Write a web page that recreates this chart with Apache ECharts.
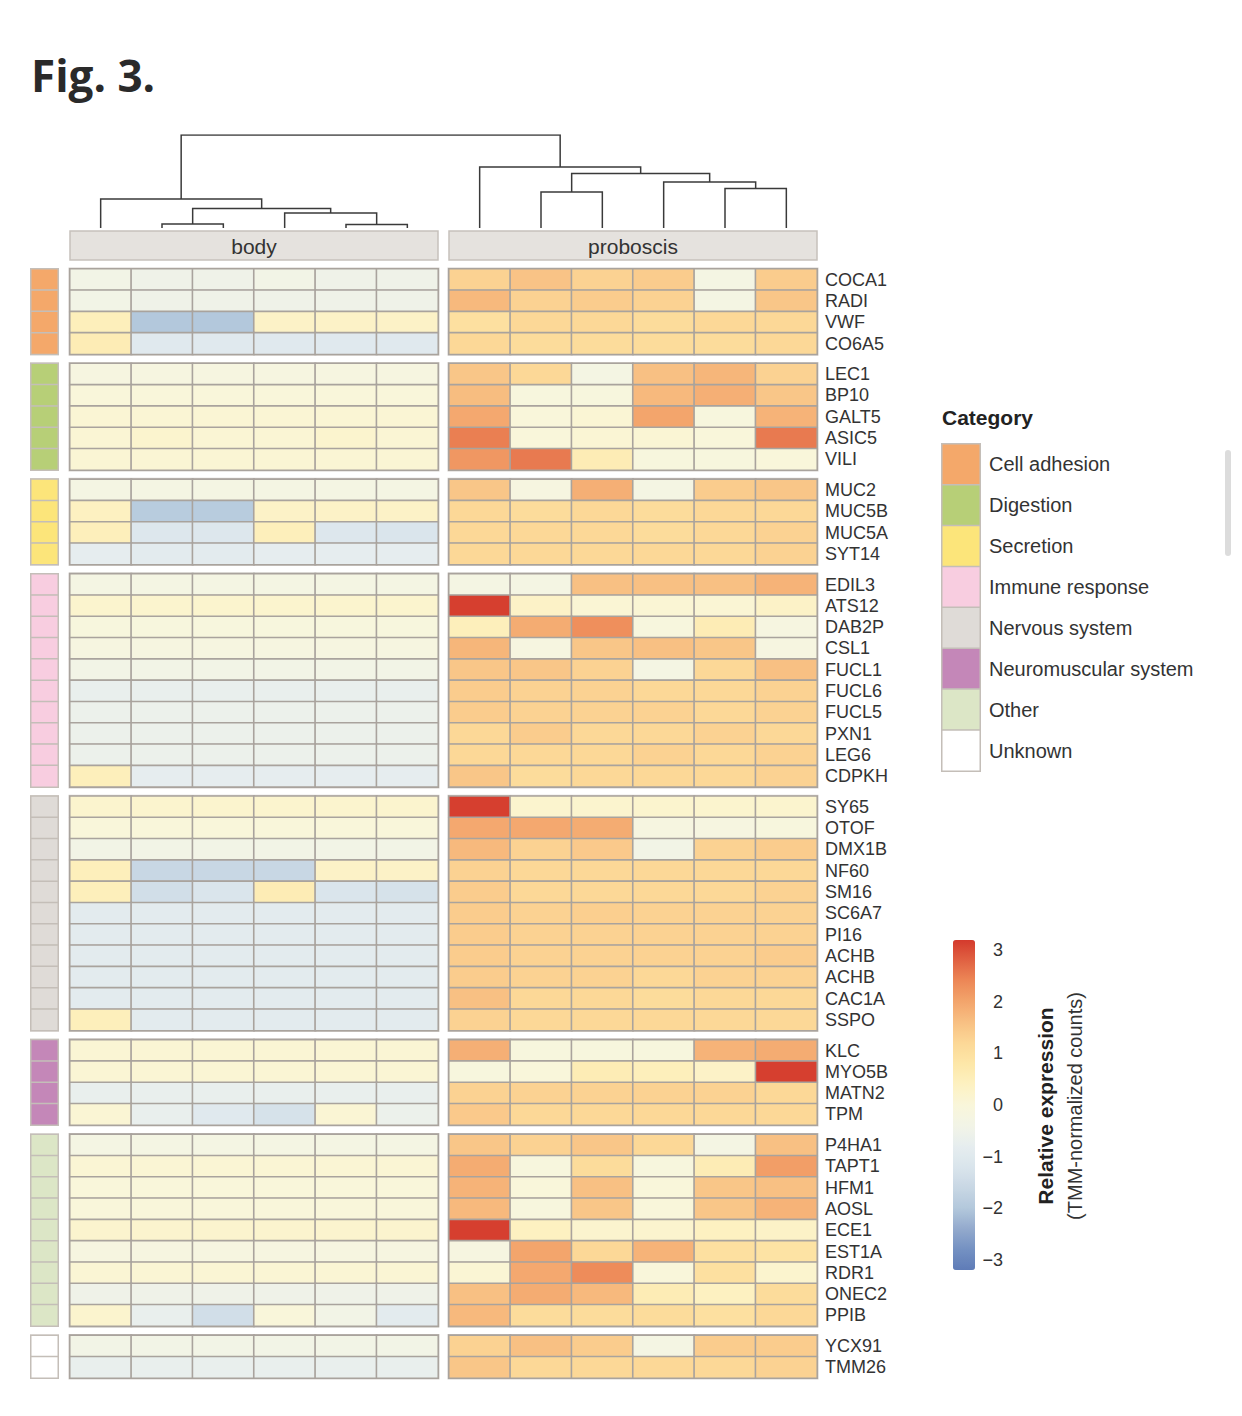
<!DOCTYPE html>
<html><head><meta charset="utf-8">
<script src="https://cdn.jsdelivr.net/npm/echarts@6/dist/echarts.min.js"></script>
<style>html,body{margin:0;padding:0;background:#fff}#chart{width:1242px;height:1416px}</style>
</head><body><div id="chart"></div>
<script>
// ---------------- DATA ----------------
const facets = ['body', 'proboscis'];
const samples = ['1', '2', '3', '4', '5', '6'];
const categories = ['Cell adhesion', 'Digestion', 'Secretion', 'Immune response', 'Nervous system', 'Neuromuscular system', 'Other', 'Unknown'];
const categoryColors = ['#f4a86a', '#b7cf77', '#fce57a', '#f8cde0', '#dfdbd7', '#c487b8', '#dce6c6', '#ffffff'];
const groupSizes = [4, 5, 4, 10, 11, 4, 9, 2];
const genes = [
  'COCA1', 'RADI', 'VWF', 'CO6A5',
  'LEC1', 'BP10', 'GALT5', 'ASIC5', 'VILI',
  'MUC2', 'MUC5B', 'MUC5A', 'SYT14',
  'EDIL3', 'ATS12', 'DAB2P', 'CSL1', 'FUCL1', 'FUCL6', 'FUCL5', 'PXN1', 'LEG6', 'CDPKH',
  'SY65', 'OTOF', 'DMX1B', 'NF60', 'SM16', 'SC6A7', 'PI16', 'ACHB', 'ACHB', 'CAC1A', 'SSPO',
  'KLC', 'MYO5B', 'MATN2', 'TPM',
  'P4HA1', 'TAPT1', 'HFM1', 'AOSL', 'ECE1', 'EST1A', 'RDR1', 'ONEC2', 'PPIB',
  'YCX91', 'TMM26'
];
// relative expression, body samples 1-6
const bodyExpr = [
  [-0.4, -0.5, -0.5, -0.4, -0.5, -0.5], [-0.4, -0.5, -0.5, -0.5, -0.5, -0.5], [0.5, -2.0, -2.0, 0.3, 0.3, 0.3], [0.6, -1.0, -1.0, -1.0, -1.0, -1.0],
  [-0.2, -0.2, -0.2, -0.2, -0.2, -0.2], [0.0, 0.0, 0.0, 0.0, 0.0, 0.0], [0.1, 0.1, 0.1, 0.1, 0.1, 0.1], [0.1, 0.2, 0.1, 0.1, 0.2, 0.1], [0.1, 0.1, 0.1, 0.1, 0.1, 0.1],
  [-0.3, -0.3, -0.3, -0.3, -0.3, -0.3], [0.4, -1.9, -1.9, 0.3, 0.3, 0.3], [0.5, -1.1, -1.1, 0.5, -1.1, -1.2], [-0.8, -0.9, -0.9, -0.8, -0.8, -0.8],
  [-0.3, -0.3, -0.3, -0.3, -0.3, -0.3], [0.2, 0.2, 0.2, 0.2, 0.2, 0.2], [-0.1, -0.1, -0.1, -0.1, -0.1, -0.1], [-0.2, -0.2, -0.2, -0.2, -0.2, -0.2], [-0.4, -0.4, -0.4, -0.4, -0.4, -0.4],
  [-0.7, -0.7, -0.7, -0.7, -0.7, -0.7], [-0.6, -0.6, -0.6, -0.6, -0.6, -0.6], [-0.6, -0.6, -0.6, -0.6, -0.6, -0.6], [-0.6, -0.6, -0.6, -0.6, -0.6, -0.6], [0.5, -0.8, -0.8, -0.8, -0.8, -0.8],
  [0.2, 0.2, 0.2, 0.2, 0.2, 0.2], [0.0, 0.0, 0.0, 0.0, 0.0, 0.0], [-0.4, -0.4, -0.4, -0.4, -0.4, -0.4], [0.5, -1.6, -1.6, -1.6, 0.3, 0.3], [0.5, -1.4, -1.2, 0.6, -1.2, -1.3],
  [-0.9, -0.9, -0.9, -0.9, -0.9, -0.9], [-0.9, -0.9, -0.9, -0.9, -0.9, -0.9], [-0.9, -0.9, -0.9, -0.9, -0.9, -0.9], [-0.9, -0.9, -0.9, -0.9, -0.9, -0.9], [-0.9, -0.9, -0.9, -0.9, -0.9, -0.9], [0.5, -0.9, -0.9, -0.9, -0.9, -0.9],
  [0.1, 0.1, 0.1, 0.1, 0.1, 0.1], [0.1, 0.1, 0.1, 0.1, 0.1, 0.1], [-0.7, -0.7, -0.7, -0.7, -0.7, -0.7], [0.1, -0.7, -1.0, -1.3, 0.1, -0.6],
  [-0.3, -0.3, -0.3, -0.3, -0.3, -0.3], [0.1, 0.1, 0.1, 0.1, 0.1, 0.1], [0.0, 0.0, 0.0, 0.0, 0.0, 0.0], [0.0, 0.0, 0.0, 0.0, 0.0, 0.0], [0.2, 0.2, 0.2, 0.2, 0.2, 0.2], [-0.2, -0.2, -0.2, -0.2, -0.2, -0.2], [0.1, 0.1, 0.1, 0.1, 0.1, 0.1], [-0.5, -0.5, -0.5, -0.5, -0.5, -0.5], [0.2, -0.7, -1.4, 0.0, -0.4, -0.9],
  [-0.4, -0.4, -0.4, -0.4, -0.4, -0.4], [-0.7, -0.7, -0.7, -0.7, -0.7, -0.7]
];
// relative expression, proboscis samples 1-6
const proboscisExpr = [
  [1.3, 1.55, 1.3, 1.4, -0.3, 1.4], [1.7, 1.3, 1.4, 1.3, -0.3, 1.5], [1.0, 1.2, 1.2, 1.1, 1.2, 1.2], [1.2, 1.1, 1.1, 1.1, 1.1, 1.2],
  [1.5, 1.2, -0.3, 1.6, 1.75, 1.3], [1.65, -0.1, -0.1, 1.7, 1.85, 1.5], [1.95, 0.0, 0.1, 2.0, -0.1, 1.8], [2.5, 0.0, 0.1, 0.1, 0.0, 2.55], [2.2, 2.55, 0.6, -0.1, -0.1, 0.0],
  [1.5, -0.2, 1.85, -0.3, 1.4, 1.5], [1.2, 1.1, 1.2, 1.1, 1.2, 1.2], [1.2, 1.2, 1.2, 1.1, 1.2, 1.3], [1.2, 1.2, 1.2, 1.2, 1.2, 1.3],
  [-0.3, -0.3, 1.6, 1.6, 1.6, 1.8], [3.15, 0.3, 0.1, 0.1, 0.1, 0.3], [0.5, 1.9, 2.3, -0.1, 0.6, -0.2], [1.75, -0.2, 1.5, 1.6, 1.5, -0.2], [1.5, 1.5, 1.3, -0.3, 1.2, 1.6],
  [1.4, 1.3, 1.3, 1.2, 1.2, 1.3], [1.4, 1.3, 1.3, 1.3, 1.2, 1.3], [1.2, 1.4, 1.2, 1.2, 1.3, 1.2], [1.2, 1.2, 1.2, 1.3, 1.2, 1.3], [1.5, 1.1, 1.2, 1.2, 1.2, 1.3],
  [3.15, 0.2, 0.2, 0.2, 0.2, 0.2], [1.95, 1.95, 1.9, -0.2, -0.2, -0.1], [1.7, 1.3, 1.45, -0.4, 1.3, 1.4], [1.3, 1.2, 1.2, 1.2, 1.2, 1.2], [1.4, 1.2, 1.2, 1.2, 1.2, 1.3],
  [1.4, 1.3, 1.35, 1.3, 1.3, 1.3], [1.4, 1.3, 1.3, 1.3, 1.3, 1.3], [1.4, 1.3, 1.3, 1.3, 1.3, 1.4], [1.4, 1.3, 1.3, 1.2, 1.3, 1.3], [1.6, 1.2, 1.2, 1.1, 1.2, 1.2], [1.3, 1.2, 1.2, 1.2, 1.2, 1.2],
  [1.85, -0.1, -0.1, -0.1, 1.8, 1.9], [-0.1, 0.0, 0.6, 0.5, 0.3, 3.15], [1.3, 1.3, 1.3, 1.3, 1.3, 1.2], [1.45, 1.2, 1.2, 1.2, 1.2, 1.2],
  [1.5, 1.3, 1.5, 1.2, -0.3, 1.6], [1.9, -0.1, 1.1, -0.1, 0.6, 2.1], [1.8, 0.0, 1.6, 0.0, 1.5, 1.6], [1.7, -0.1, 1.5, 0.0, 1.5, 1.8], [3.15, 0.4, 0.2, 0.2, 0.4, 0.3], [-0.2, 2.0, 1.2, 1.8, 1.0, 0.9], [0.1, 1.95, 2.35, 0.0, 1.0, 0.2], [1.6, 1.9, 1.7, 0.6, 0.4, 1.1], [1.7, 1.1, 1.1, 1.1, 1.0, 1.2],
  [1.3, 1.6, 1.4, -0.3, 1.4, 1.4], [1.5, 1.2, 1.2, 1.2, 1.2, 1.3]
];
const colorTicks = [-3, -2, -1, 0, 1, 2, 3];
// hclust-style merges over 12 samples (leaves -1..-6 body, -7..-12 proboscis): [left, right, height]
const dendroMerges = [
  [-2, -3, 0.43], [-5, -6, 0.37], [-4, 2, 1.61], [1, 3, 2.09], [-1, 4, 3.12],
  [-11, -12, 4.25], [-10, 6, 4.95], [-8, -9, 3.87], [8, 7, 5.86], [-7, 9, 6.56],
  [5, 10, 10]
];

// ---------------- LAYOUT ----------------
const panelLeft = [70, 449], panelWidth = 368;
const top0 = 269, rowH = 21.3, groupGap = 9.33;
const catLeft = 31, catWidth = 27;
const textColor = '#333333';
const sans = '"Liberation Sans", Arial, sans-serif';
const palette = ['#5f7cb7', '#7491c2', '#93aacd', '#b3c8dc', '#c8d7e4', '#dae5ec', '#e6edef', '#f2f4e6',
  '#f9f6da', '#fdf1c1', '#fde7a8', '#fcd897', '#f8c083', '#f3a56c', '#ed8857', '#e06243', '#d43a2c'];

const grid = [], xAxis = [], yAxis = [], series = [];
const exprSeries = [], catSeries = [];
let rowStart = 0;
groupSizes.forEach((size, g) => {
  const top = top0 + rowStart * rowH + g * groupGap;
  const height = size * rowH;
  const geneSlice = genes.slice(rowStart, rowStart + size);
  [bodyExpr, proboscisExpr].forEach((mat, f) => {
    const gi = grid.length;
    grid.push({ left: panelLeft[f], top: top, width: panelWidth, height: height, show: true,
      borderColor: '#d6d2ce', borderWidth: 3, backgroundColor: '#fff' });
    xAxis.push({ gridIndex: gi, type: 'category', data: samples, show: false });
    yAxis.push({ gridIndex: gi, type: 'category', data: geneSlice.map((n, i) => i + ':' + n), inverse: true,
      show: f === 1, position: 'right', axisLine: { show: false }, axisTick: { show: false },
      axisLabel: { interval: 0, hideOverlap: false, fontSize: 18, color: textColor, margin: 8, fontFamily: sans,
        formatter: v => v.split(':')[1] } });
    const data = [];
    for (let r = 0; r < size; r++) for (let c = 0; c < samples.length; c++) data.push([c, r, mat[rowStart + r][c]]);
    exprSeries.push(series.length);
    series.push({ type: 'heatmap', xAxisIndex: gi, yAxisIndex: gi, data: data,
      itemStyle: { borderColor: '#a9a39d', borderWidth: 1.6 }, emphasis: { disabled: true } });
  });
  // category side bar
  const gi = grid.length;
  grid.push({ left: catLeft, top: top, width: catWidth, height: height, show: true, borderColor: '#d6d2ce', borderWidth: 2 });
  xAxis.push({ gridIndex: gi, type: 'category', data: ['category'], show: false });
  yAxis.push({ gridIndex: gi, type: 'category', data: geneSlice.map((n, i) => i + ':' + n), inverse: true, show: false });
  catSeries.push(series.length);
  series.push({ type: 'heatmap', xAxisIndex: gi, yAxisIndex: gi, data: geneSlice.map((n, r) => [0, r, g]),
    itemStyle: { borderColor: '#c4beb8', borderWidth: 1.5 }, emphasis: { disabled: true } });
  rowStart += size;
});

// category legend (as a small heatmap)
{
  const gi = grid.length;
  grid.push({ left: 942, top: 444, width: 38, height: 327 });
  xAxis.push({ gridIndex: gi, type: 'category', data: ['category'], show: false });
  yAxis.push({ gridIndex: gi, type: 'category', data: categories, inverse: true, position: 'right',
    axisLine: { show: false }, axisTick: { show: false },
    axisLabel: { interval: 0, fontSize: 20, color: textColor, margin: 9, fontFamily: sans } });
  catSeries.push(series.length);
  series.push({ type: 'heatmap', xAxisIndex: gi, yAxisIndex: gi, data: categories.map((c, i) => [0, i, i]),
    itemStyle: { borderColor: '#c4beb8', borderWidth: 1.5 }, emphasis: { disabled: true } });
}

// colour bar tick labels
{
  const gi = grid.length;
  grid.push({ left: 1004, top: 950, width: 1, height: 310 });
  xAxis.push({ gridIndex: gi, type: 'value', show: false, min: 0, max: 1 });
  yAxis.push({ gridIndex: gi, type: 'value', min: colorTicks[0], max: colorTicks[colorTicks.length - 1], interval: 1,
    position: 'left', axisLine: { show: false }, axisTick: { show: false }, splitLine: { show: false },
    axisLabel: { fontSize: 18, color: textColor, margin: 1, fontFamily: sans, formatter: v => String(v).replace('-', '\u2212') } });
}

// dendrogram
{
  const colW = panelWidth / samples.length;
  const gapCols = (panelLeft[1] - panelLeft[0] - panelWidth) / colW;
  const leafX = i => (i < 6 ? i + 0.5 : i + 0.5 + gapCols);
  const nodes = [];
  const pos = id => id < 0 ? [leafX(-id - 1), 0] : nodes[id - 1];
  const lines = [];
  dendroMerges.forEach(([a, b, h]) => {
    const pa = pos(a), pb = pos(b);
    lines.push({ coords: [[pa[0], pa[1]], [pa[0], h], [pb[0], h], [pb[0], pb[1]]] });
    nodes.push([(pa[0] + pb[0]) / 2, h]);
  });
  const gi = grid.length;
  grid.push({ left: panelLeft[0], top: 135, width: panelLeft[1] + panelWidth - panelLeft[0], height: 93 });
  xAxis.push({ gridIndex: gi, type: 'value', min: 0, max: 12 + gapCols, show: false });
  yAxis.push({ gridIndex: gi, type: 'value', min: 0, max: 10, show: false });
  series.push({ type: 'lines', coordinateSystem: 'cartesian2d', xAxisIndex: gi, yAxisIndex: gi, polyline: true,
    data: lines, lineStyle: { color: '#3a3a3a', width: 1.5, opacity: 1 }, silent: true });
}

const graphic = [
  { type: 'text', x: 31, y: 75, style: { text: 'Fig. 3.', fontSize: 44, fontWeight: 'bold', fontFamily: '"Open Sans", "Noto Sans", sans-serif', fill: '#2a2a2a', verticalAlign: 'middle' } },
  { type: 'text', x: 942, y: 417, style: { text: 'Category', fontSize: 21, fontWeight: 'bold', fontFamily: sans, fill: '#222', verticalAlign: 'middle' } },
  { type: 'text', x: 1060, y: 1106, rotation: Math.PI / 2,
    style: { text: '{a|Relative expression}\n{b|(TMM-normalized counts)}', align: 'center', verticalAlign: 'middle',
      rich: { a: { fontSize: 21, fontWeight: 'bold', fontFamily: sans, fill: '#222', lineHeight: 30 },
              b: { fontSize: 20, fontFamily: sans, fill: '#333', lineHeight: 30 } } } },
  { type: 'rect', shape: { x: 1225, y: 450, width: 6, height: 106, r: 3 }, style: { fill: '#dcdcdc' } }
];
facets.forEach((name, f) => {
  graphic.push({ type: 'rect', shape: { x: panelLeft[f], y: 231, width: panelWidth, height: 29 }, style: { fill: '#e5e2de', stroke: '#c6c1bc', lineWidth: 1.5 } });
  graphic.push({ type: 'text', x: panelLeft[f] + panelWidth / 2, y: 246, style: { text: name, fontSize: 21, fontFamily: sans, fill: textColor, align: 'center', verticalAlign: 'middle' } });
});

const chart = echarts.init(document.getElementById('chart'), null, { renderer: 'svg' });
chart.setOption({
  animation: false,
  backgroundColor: '#ffffff',
  grid, xAxis, yAxis, series, graphic,
  visualMap: [
    { type: 'continuous', min: -3.2, max: 3.2, dimension: 2, seriesIndex: exprSeries, calculable: false,
      left: 953, top: 940, itemWidth: 22, itemHeight: 330, padding: 0, text: null, showLabel: false,
      inRange: { color: palette } },
    { type: 'piecewise', show: false, dimension: 2, seriesIndex: catSeries,
      pieces: categoryColors.map((c, i) => ({ value: i, color: c })) }
  ]
});
</script></body></html>
